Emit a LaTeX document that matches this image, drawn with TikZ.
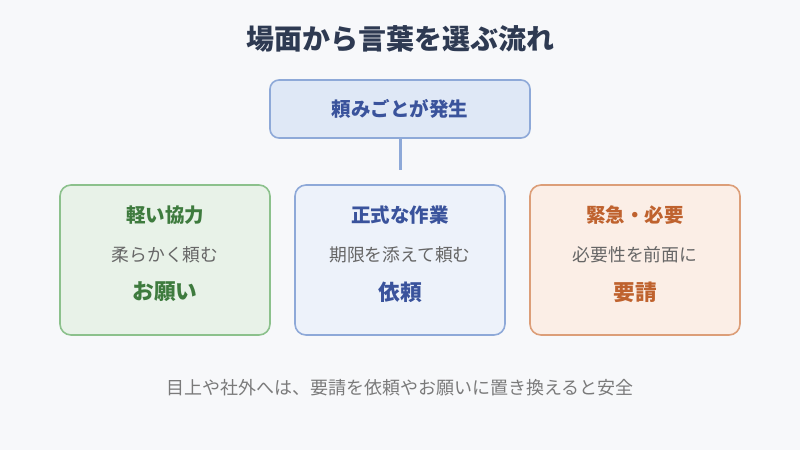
\documentclass[tikz,border=0pt]{standalone}
\usepackage{fontspec}
\setmainfont{Noto Sans CJK JP}
\usetikzlibrary{positioning}
\definecolor{bg}{HTML}{F7F8FA}
\definecolor{titlec}{HTML}{2E3A52}
\definecolor{bluefill}{HTML}{DFE8F6}
\definecolor{blueline}{HTML}{8EA9D8}
\definecolor{bluetext}{HTML}{3A539C}
\definecolor{midfill}{HTML}{EDF2FA}
\definecolor{greenfill}{HTML}{E8F2E8}
\definecolor{greenline}{HTML}{8CC18C}
\definecolor{greentext}{HTML}{3E7B3E}
\definecolor{orfill}{HTML}{FBEEE6}
\definecolor{orline}{HTML}{DC9E78}
\definecolor{ortext}{HTML}{BF622E}
\definecolor{subtext}{HTML}{666666}
\definecolor{foot}{HTML}{7A7A7A}
\tikzset{
  card/.style={draw, line width=1.6pt, rounded corners=11pt, minimum width=210pt, minimum height=150pt, inner sep=0pt},
  cardtitle/.style={font=\bfseries\fontsize{19.5}{23}\selectfont},
  cardsub/.style={text=subtext, font=\fontsize{17.8}{21}\selectfont},
  cardmain/.style={font=\bfseries\fontsize{21.7}{26}\selectfont},
}
\begin{document}
\begin{tikzpicture}[x=1pt,y=-1pt]
\fill[bg] (0,0) rectangle (800,450);
\useasboundingbox (0,0) rectangle (800,450);
\node[text=titlec, font=\bfseries\fontsize{28}{32}\selectfont] (title) at (400,39) {場面から言葉を選ぶ流れ};
\node[draw=blueline, fill=bluefill, line width=1.6pt, rounded corners=9pt, minimum width=260pt, minimum height=58pt, text=bluetext, font=\bfseries\fontsize{19.5}{23}\selectfont] (top) at (400,109) {頼みごとが発生};
\coordinate (lineend) at (400,170);
\draw[blueline, line width=3pt] (top.south) -- (lineend);

\node[card, draw=greenline, fill=greenfill] (left) at (165,260) {};
\node[card, draw=blueline, fill=midfill] (mid) at (400,260) {};
\node[card, draw=orline, fill=orfill] (right) at (635,260) {};

\node[cardtitle, text=greentext] (lt) at (165,215) {軽い協力};
\node[cardsub] (ls) at (165,255) {柔らかく頼む};
\node[cardmain, text=greentext] (lm) at (165,292) {お願い};

\node[cardtitle, text=bluetext] (mt) at (400,215) {正式な作業};
\node[cardsub] (ms) at (400,255) {期限を添えて頼む};
\node[cardmain, text=bluetext] (mm) at (400,292) {依頼};

\node[cardtitle, text=ortext] (rt) at (635,215) {緊急・必要};
\node[cardsub] (rs) at (635,255) {必要性を前面に};
\node[cardmain, text=ortext] (rm) at (635,292) {要請};

\node[text=foot, font=\fontsize{18}{21}\selectfont] (footer) at (400,388) {目上や社外へは、要請を依頼やお願いに置き換えると安全};
\end{tikzpicture}
\end{document}
